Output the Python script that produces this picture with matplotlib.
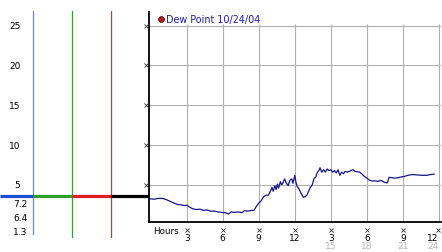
import matplotlib
matplotlib.use("Agg")
import matplotlib.pyplot as plt
from matplotlib.transforms import blended_transform_factory as btf

# ---------------- data ----------------
hours = [0.0, 0.3, 0.6, 1.0, 1.3, 1.6, 1.9, 2.2, 2.5, 2.8, 3.0, 3.2, 3.5, 3.8,
         4.1, 4.4, 4.7, 5.0, 5.3, 5.6, 5.9, 6.2, 6.5, 6.7, 7.0, 7.3, 7.6, 7.8,
         8.1, 8.4, 8.6, 8.8, 9.0, 9.2, 9.4, 9.6, 9.8, 10.0, 10.1, 10.2, 10.35,
         10.45, 10.55, 10.65, 10.8, 10.9, 11.0, 11.15, 11.3, 11.45, 11.6, 11.75,
         11.85, 12.0, 12.1, 12.2, 12.35, 12.5, 12.7, 12.85, 13.0, 13.15, 13.3,
         13.45, 13.6, 13.75, 13.85, 14.0, 14.1, 14.25, 14.4, 14.55, 14.7, 14.85,
         15.0, 15.15, 15.3, 15.45, 15.6, 15.75, 15.9, 16.05, 16.2, 16.4, 16.6,
         16.85, 17.0, 17.2, 17.4, 17.6, 17.8, 18.0, 18.2, 18.4, 18.7, 18.9, 19.2,
         19.5, 19.7, 19.85, 20.1, 20.3, 20.6, 20.85, 21.1, 21.4, 21.8, 22.2,
         22.6, 23.0, 23.3, 23.6]
dew_point = [3.25, 3.2, 3.3, 3.3, 3.15, 2.95, 2.75, 2.55, 2.5, 2.4, 2.45, 2.25,
             2.0, 1.9, 1.95, 1.8, 1.85, 1.7, 1.7, 1.6, 1.55, 1.5, 1.35, 1.6,
             1.55, 1.6, 1.5, 1.75, 1.7, 1.8, 1.8, 2.3, 2.7, 3.0, 3.5, 3.7, 3.7,
             4.3, 4.7, 4.2, 4.9, 4.4, 5.1, 4.6, 5.4, 5.0, 5.2, 5.75, 5.2, 4.9,
             5.6, 5.75, 5.2, 6.2, 5.3, 4.8, 4.5, 4.0, 3.45, 3.5, 3.7, 4.2, 4.7,
             5.0, 5.8, 6.0, 6.5, 6.8, 7.15, 6.6, 6.9, 6.6, 7.0, 6.8, 6.9, 6.6,
             6.8, 6.5, 6.9, 6.2, 6.6, 6.4, 6.7, 6.6, 6.75, 6.9, 6.7, 6.65, 6.6,
             6.35, 6.05, 5.85, 5.6, 5.5, 5.5, 5.45, 5.55, 5.3, 5.25, 5.95, 5.9,
             5.85, 5.9, 6.0, 6.05, 6.2, 6.3, 6.25, 6.2, 6.2, 6.3, 6.35]
y_ticks = [5, 10, 15, 20, 25]
x_ticks = [3, 6, 9, 12, 15, 18, 21, 24]
x_labels_12h = ["3", "6", "9", "12", "3", "6", "9", "12"]
x_labels_24h = ["", "", "", "", "15", "18", "21", "24"]
current_value = 3.65
readouts = ["7.2", "6.4", "1.3"]
legend_label = "Dew Point 10/24/04"

# ---------------- layout helpers (pixel -> figure fraction) ----------------
W, H = 442, 253
fig = plt.figure(figsize=(W / 100, H / 100), dpi=100)
fig.patch.set_facecolor("white")


def fx(px):
    return px / W


def fy(py):
    return 1 - py / H


FONT = "DejaVu Sans"
ax = fig.add_axes([fx(149.3), fy(223.3), fx(441) - fx(149.3), fy(13.3) - fy(223.3)])
ax.set_xlim(-0.11, 24.17)
ax.set_ylim(0.3, 26.68)
ax.set_xticks([])
ax.set_yticks([])
for s in ["top", "right"]:
    ax.spines[s].set_visible(False)
for s in ["left", "bottom"]:
    ax.spines[s].set_color("black")
    ax.spines[s].set_linewidth(1.3)

grid_c = "#b0b0b0"
for v in y_ticks:
    ax.axhline(v, color=grid_c, lw=0.8, zorder=1)
ax.vlines(x_ticks, 0.3, 25.2, color=grid_c, lw=0.8, zorder=1)

ax.plot(hours, dew_point, color="#14148c", lw=0.9, zorder=3)

# y labels and marks
ty = btf(fig.transFigure, ax.transData)
for v in y_ticks:
    fig.text(fx(20.5), v, str(v), transform=ty, ha="right", va="center",
             fontsize=6.5, family=FONT, color="black")
ax.plot([fx(146.3)] * len(y_ticks), y_ticks, transform=ty, ls="none",
        marker="x", ms=2.4, mew=0.6, color="#333333", clip_on=False, zorder=5)

# x labels and marks
tx = btf(ax.transData, fig.transFigure)
mark_x = list(x_ticks[:-1]) + [x_ticks[-1] - 0.1]
ax.plot(mark_x, [fy(230.5)] * len(x_ticks), transform=tx, ls="none",
        marker="x", ms=2.4, mew=0.6, color="#333333", clip_on=False)
last = len(x_ticks) - 1
for i, (x, l1, l2) in enumerate(zip(x_ticks, x_labels_12h, x_labels_24h)):
    if i == last:
        xpos, ha = fx(438.5), "right"
        tr = fig.transFigure
    else:
        xpos, ha = x, "center"
        tr = tx
    fig.text(xpos, fy(238.2), l1, transform=tr, ha=ha, va="center",
             fontsize=6.5, family=FONT, color="black")
    if l2:
        fig.text(xpos, fy(246.5), l2, transform=tr, ha=ha, va="center",
                 fontsize=6.5, family=FONT, color="#b4b4b4")
fig.text(fx(153.5), fy(231.8), "Hours", ha="left", va="center",
         fontsize=6.3, family=FONT, color="black")

# legend
fig.lines.append(plt.Line2D([fx(160.7)], [fy(20)], transform=fig.transFigure,
                            ls="none", marker="o", ms=4.2, mfc="#b01818",
                            mec="#400000", mew=0.5))
fig.text(fx(165.5), fy(20), legend_label, ha="left", va="center",
         fontsize=6.9, family=FONT, color="#1c1ca8")

# left indicator panel
vcols = [(33.3, "#3aa0d2", 235.0), (72.3, "#3c9a3c", 237.5), (111.3, "#c83838", 237.5)]
for x, c, yb in vcols:
    fig.lines.append(plt.Line2D([fx(x), fx(x)], [fy(12.3), fy(yb)],
                                transform=fig.transFigure, color=c, lw=0.9))
segs = [(0, 33.3, "#1a4fd6"), (33.3, 72.3, "#2aa02a"), (72.3, 111.3, "#e01e1e"),
        (111.3, 149.3, "black")]
for x0, x1, c in segs:
    fig.lines.append(plt.Line2D([fx(x0), fx(x1)], [current_value, current_value],
                                transform=ty, color=c, lw=2.3,
                                solid_capstyle="butt"))
for i, r in enumerate(readouts):
    fig.text(fx(27.3), fy(204.5 + i * 14.1), r, ha="right", va="center",
             fontsize=6.5, family=FONT, color="black")

fig.savefig("out.png", dpi=100, facecolor="white")
